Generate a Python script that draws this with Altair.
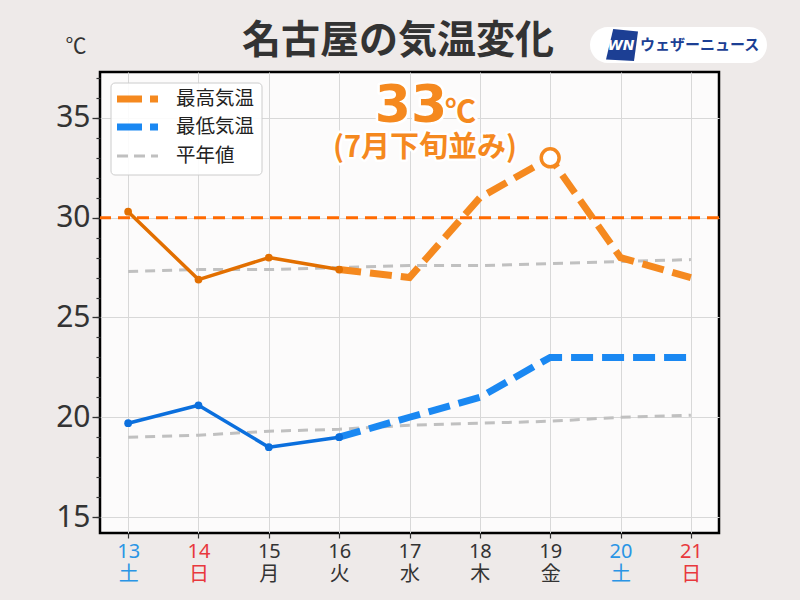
import json
import altair as alt
import pandas as pd

# ---------------- data ----------------
days = [13, 14, 15, 16, 17, 18, 19, 20, 21]
weekdays = ["土", "日", "月", "火", "水", "木", "金", "土", "日"]

obs_days = [13, 14, 15, 16]
max_obs = [30.3, 26.9, 28.0, 27.4]
min_obs = [19.7, 20.6, 18.5, 19.0]

fc_days = [16, 17, 18, 19, 20, 21]
max_fc = [27.4, 27.0, 31.0, 33.0, 28.0, 27.0]
min_fc = [19.0, 20.0, 21.0, 23.0, 23.0, 23.0]

normal_max = [27.3, 27.4, 27.4, 27.5, 27.6, 27.6, 27.7, 27.8, 27.9]
normal_min = [19.0, 19.1, 19.3, 19.4, 19.6, 19.7, 19.8, 20.0, 20.1]

threshold = [30]
peak_day = [19]
peak_value = [33]

y_ticks = [15, 20, 25, 30, 35]
minor_ticks = list(range(15, 38))
legend_labels = ["最高気温", "最低気温", "平年値"]
title_text = "名古屋の気温変化"
unit_text = "℃"
peak_text = "33"
peak_note = "(7月下旬並み)"
brand_text = "ウェザーニュース"

# ---------------- styles ----------------
BG = "#eeeae9"
PLOT_BG = "#fcfbfb"
ORANGE_OBS = "#e26f00"
ORANGE_FC = "#f5891f"
BLUE_OBS = "#0b6fdd"
BLUE_FC = "#1a88f2"
GRAY = "#c0c0c0"
TH_COLOR = "#ff6a00"
TXT = "#333333"
SAT = "#2a95e5"
SUN = "#e8383d"
JP = "Noto Sans CJK JP"
LAT = "Noto Sans, Noto Sans CJK JP"

W, H = 619, 461

obs_df = pd.DataFrame({"day": obs_days, "max": max_obs, "min": min_obs})
fc_df = pd.DataFrame({"day": fc_days, "max": max_fc, "min": min_fc})
nor_df = pd.DataFrame({"day": days, "nmax": normal_max, "nmin": normal_min})
th_df = pd.DataFrame({"t": threshold})
pk_df = pd.DataFrame({"day": peak_day, "v": peak_value})
one = alt.Data(values=[{}])

xscale = alt.Scale(domain=[12.6, 21.4], nice=False, zero=False)
yscale = alt.Scale(domain=[14.2, 37.3], nice=False, zero=False)

sat_test = " || ".join(f"datum.value == {d}" for d, w in zip(days, weekdays) if w == "土")
sun_test = " || ".join(f"datum.value == {d}" for d, w in zip(days, weekdays) if w == "日")
wd_js = json.dumps(weekdays, ensure_ascii=False)

x_axis = alt.Axis(
    values=days,
    labelExpr=f"[datum.label, {wd_js}[datum.value - {days[0]}]]",
    labelColor={"condition": [{"test": sat_test, "value": SAT},
                              {"test": sun_test, "value": SUN}],
                "value": TXT},
    labelFont=LAT, labelFontSize=20, labelLineHeight=23, labelPadding=3,
    tickSize=5, tickColor=TXT, tickWidth=1.2,
    grid=True, gridColor="#d8d8d8", gridWidth=1,
    domain=False, title=None, labelAngle=0,
)

y_main = alt.Axis(
    values=y_ticks, orient="left", tickSize=8, tickColor=TXT, tickWidth=1.3,
    labelFont=LAT, labelFontSize=30, labelColor=TXT, labelPadding=2,
    grid=True, gridColor="#d8d8d8", gridWidth=1, domain=False, title=None,
)
y_minor = alt.Axis(
    values=minor_ticks, orient="left", tickSize=4, tickColor=TXT, tickWidth=1.2,
    labels=False, grid=False, domain=False, title=None,
)


def X(f="day"):
    return alt.X(f"{f}:Q", scale=xscale, axis=x_axis)


def Y(f, axis=None):
    return alt.Y(f"{f}:Q", scale=yscale, axis=axis)


layers = []

# normal lines (carry the y axes)
layers.append(alt.Chart(nor_df).mark_line(color=GRAY, strokeWidth=3, strokeDash=[10, 7])
              .encode(x=X(), y=Y("nmax", y_minor)))
layers.append(alt.Chart(nor_df).mark_line(color=GRAY, strokeWidth=3, strokeDash=[10, 7])
              .encode(x=X(), y=Y("nmin", y_main)))

# 30 degree threshold
layers.append(alt.Chart(th_df).mark_rule(color=TH_COLOR, strokeWidth=3, strokeDash=[12, 7])
              .encode(y=Y("t")))

# forecast lines
layers.append(alt.Chart(fc_df).mark_line(color=ORANGE_FC, strokeWidth=7, strokeDash=[22, 9])
              .encode(x=X(), y=Y("max")))
layers.append(alt.Chart(fc_df).mark_line(color=BLUE_FC, strokeWidth=7, strokeDash=[22, 9])
              .encode(x=X(), y=Y("min")))

# observed lines
layers.append(alt.Chart(obs_df).mark_line(color=ORANGE_OBS, strokeWidth=3.5, strokeJoin="round")
              .encode(x=X(), y=Y("max")))
layers.append(alt.Chart(obs_df).mark_point(color=ORANGE_OBS, filled=True, size=60, opacity=1)
              .encode(x=X(), y=Y("max")))
layers.append(alt.Chart(obs_df).mark_line(color=BLUE_OBS, strokeWidth=3.5, strokeJoin="round")
              .encode(x=X(), y=Y("min")))
layers.append(alt.Chart(obs_df).mark_point(color=BLUE_OBS, filled=True, size=60, opacity=1)
              .encode(x=X(), y=Y("min")))

# peak marker
layers.append(alt.Chart(pk_df).mark_point(shape="circle", size=320, fill="white", filled=False,
                                          stroke=ORANGE_FC, strokeWidth=3.5, opacity=1)
              .encode(x=X(), y=Y("v")))

# peak annotation (white halo + orange text)
for halo in (True, False):
    extra = dict(stroke="white", strokeWidth=5, strokeJoin="round") if halo else {}
    layers.append(alt.Chart(one).mark_text(font="DejaVu Sans", fontSize=52, fontWeight="bold",
                                           color=ORANGE_FC, align="center", baseline="alphabetic", **extra)
                  .encode(x=alt.value(311), y=alt.value(50), text=alt.value(peak_text)))
    layers.append(alt.Chart(one).mark_text(font=JP, fontSize=31, fontWeight="bold",
                                           color=ORANGE_FC, align="left", baseline="alphabetic", **extra)
                  .encode(x=alt.value(345), y=alt.value(50), text=alt.value(unit_text)))
    layers.append(alt.Chart(one).mark_text(font=JP, fontSize=29, fontWeight="bold",
                                           color=ORANGE_FC, align="center", baseline="middle", **extra)
                  .encode(x=alt.value(325), y=alt.value(76), text=alt.value(peak_note)))

# legend
layers.append(alt.Chart(one).mark_rect(fill="white", fillOpacity=0.9, stroke="#cccccc",
                                       strokeWidth=1, cornerRadius=4)
              .encode(x=alt.value(11), x2=alt.value(162), y=alt.value(11), y2=alt.value(103)))
leg_styles = [(ORANGE_FC, 7, [25, 8], 27), (BLUE_FC, 7, [25, 8], 55), (GRAY, 3, [11, 6], 84)]
for (col, sw, dash, ly), lab in zip(leg_styles, legend_labels):
    layers.append(alt.Chart(one).mark_rule(color=col, strokeWidth=sw, strokeDash=dash)
                  .encode(x=alt.value(17), x2=alt.value(58), y=alt.value(ly)))
    layers.append(alt.Chart(one).mark_text(font=JP, fontSize=19.5, color="#222222",
                                           align="left", baseline="middle")
                  .encode(x=alt.value(76), y=alt.value(ly), text=alt.value(lab)))

# title and unit
layers.append(alt.Chart(one).mark_text(font=JP, fontSize=39, fontWeight="bold", color=TXT,
                                       align="center", baseline="middle")
              .encode(x=alt.value(298), y=alt.value(-31), text=alt.value(title_text)))
layers.append(alt.Chart(one).mark_text(font=JP, fontSize=21, color=TXT,
                                       align="center", baseline="middle")
              .encode(x=alt.value(-24), y=alt.value(-25), text=alt.value(unit_text)))

# brand logo
layers.append(alt.Chart(one).mark_rect(fill="white", cornerRadius=18)
              .encode(x=alt.value(490), x2=alt.value(667), y=alt.value(-45), y2=alt.value(-9)))
layers.append(alt.Chart(one).mark_point(shape="M-0.55,-1 L1,-0.85 L0.75,1 L-1,0.9 Z",
                                        filled=True, fill="#1c3f94", size=1024, opacity=1, strokeWidth=0)
              .encode(x=alt.value(522), y=alt.value(-27)))
layers.append(alt.Chart(one).mark_text(font="DejaVu Sans", fontSize=14, fontWeight="bold",
                                       fontStyle="italic", color="white", align="center", baseline="middle")
              .encode(x=alt.value(521), y=alt.value(-26), text=alt.value("WN")))
layers.append(alt.Chart(one).mark_text(font=JP, fontSize=15, fontWeight="bold", color="#1c3f94",
                                       align="left", baseline="middle")
              .encode(x=alt.value(540), y=alt.value(-27), text=alt.value(brand_text)))

chart = (
    alt.layer(*layers)
    .resolve_axis(y="independent")
    .properties(width=W, height=H, background=BG, autosize="none",
                padding={"left": 100, "top": 72, "right": 81, "bottom": 67})
    .configure_view(fill=PLOT_BG, stroke="black", strokeWidth=2.5)
)

chart.save("out.html", embed_options={"renderer": "svg", "actions": False})
